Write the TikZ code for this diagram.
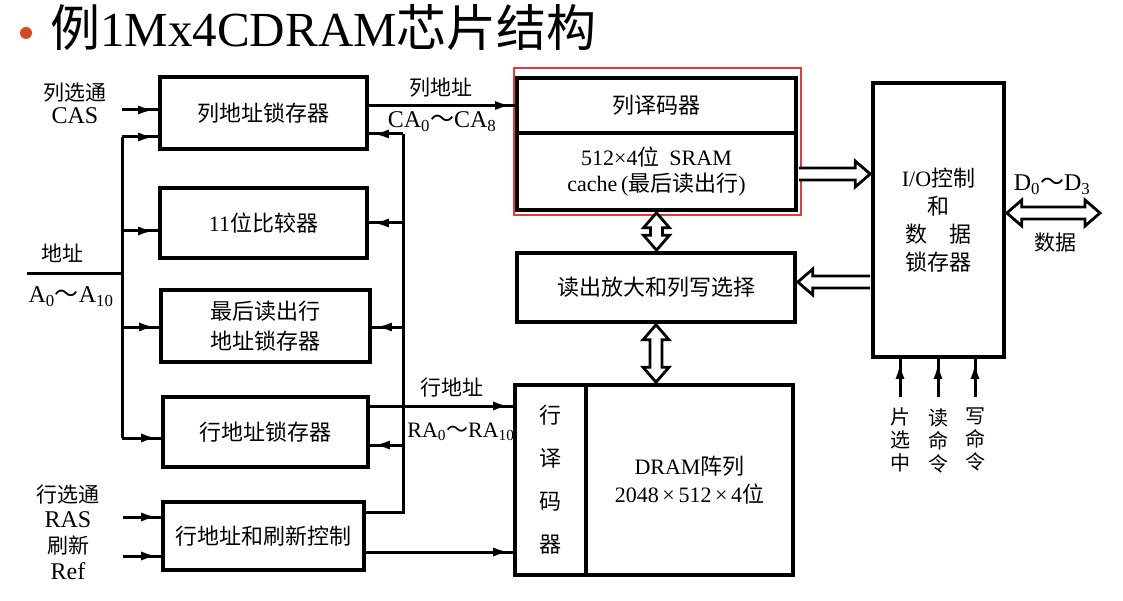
\documentclass[tikz,border=0pt]{standalone}
\usepackage{fontspec}
\setmainfont{Liberation Serif}
\newfontfamily\cjk{Noto Sans CJK SC}
\usetikzlibrary{arrows.meta,decorations.markings,calc}
\definecolor{hl}{RGB}{232,58,58}
\definecolor{bul}{RGB}{212,76,30}
\tikzset{
  blk/.style={draw, line width=3.6pt, inner sep=0pt, align=center,
    font=\cjk\fontsize{22}{30}\selectfont},
  wire/.style={line width=3pt},
  arr/.style={wire, postaction={decorate}, decoration={markings,
    mark=at position -4pt with {\arrow{Latex[length=16pt,width=9pt]}}}},
  lbl/.style={inner sep=0pt, align=center, font=\cjk\fontsize{21}{25}\selectfont},
  lat/.style={inner sep=0pt, font=\fontsize{24}{26}\selectfont},
  hb/.style={line width=2.8pt, line join=miter, fill=white},
  vbus2/.style={hb, to path={let \p1=(\tikztostart), \p2=(\tikztotarget) in
    (\x1,\y1) -- (\x1-13pt,\y1-15pt) -- (\x1-6pt,\y1-15pt) -- (\x1-6pt,\y2+15pt)
    -- (\x1-13pt,\y2+15pt) -- (\x1,\y2) -- (\x1+13pt,\y2+15pt) -- (\x1+6pt,\y2+15pt)
    -- (\x1+6pt,\y1-15pt) -- (\x1+13pt,\y1-15pt) -- cycle}},
  hbus2/.style={hb, to path={let \p1=(\tikztostart), \p2=(\tikztotarget) in
    (\x1,\y1) -- (\x1+15pt,\y1+13pt) -- (\x1+15pt,\y1+6pt) -- (\x2-15pt,\y1+6pt)
    -- (\x2-15pt,\y1+13pt) -- (\x2,\y1) -- (\x2-15pt,\y1-13pt) -- (\x2-15pt,\y1-6pt)
    -- (\x1+15pt,\y1-6pt) -- (\x1+15pt,\y1-13pt) -- cycle}},
  hbusR/.style={hb, to path={let \p1=(\tikztostart), \p2=(\tikztotarget) in
    (\x1,\y1+6pt) -- (\x2-15pt,\y1+6pt) -- (\x2-15pt,\y1+13pt) -- (\x2,\y1)
    -- (\x2-15pt,\y1-13pt) -- (\x2-15pt,\y1-6pt) -- (\x1,\y1-6pt)}},
  hbusL/.style={hb, to path={let \p1=(\tikztostart), \p2=(\tikztotarget) in
    (\x1,\y1+6pt) -- (\x2+15pt,\y1+6pt) -- (\x2+15pt,\y1+13pt) -- (\x2,\y1)
    -- (\x2+15pt,\y1-13pt) -- (\x2+15pt,\y1-6pt) -- (\x1,\y1-6pt)}},
}
\newcommand\tl{{\cjk ～}}
\begin{document}
\begin{tikzpicture}[x=1pt,y=-1pt]
\useasboundingbox (0,0) rectangle (1123,601);
% title
\fill[bul] (26,33) circle (6pt);
\node[anchor=base west, inner sep=0pt] (title) at (50,47)
  {\cjk\fontsize{50}{52}\selectfont 例{\rmfamily\fontsize{49}{52}\selectfont 1Mx4CDRAM}芯片结构};
% left boxes
\node[blk, minimum width=207pt, minimum height=72pt] (cal) at (263.5,113) {列地址锁存器};
\node[blk, minimum width=207pt, minimum height=70pt] (cmp) at (263.5,223) {{\rmfamily 11}位比较器};
\node[blk, minimum width=209pt, minimum height=72pt] (lrl) at (265.5,326) {最后读出行\\地址锁存器};
\node[blk, minimum width=205pt, minimum height=70pt] (ral) at (265.5,432) {行地址锁存器};
\node[blk, minimum width=201pt, minimum height=68pt] (rfc) at (263.5,536) {行地址和刷新控制};
% middle boxes
\node[blk, minimum width=279pt, minimum height=55pt] (cdec) at (656.5,105.5) {列译码器};
\node[blk, minimum width=279pt, minimum height=77pt] (sram) at (656.5,171.5)
  {{\rmfamily 512×4}位\ \ {\rmfamily SRAM}\\[-4pt]{\rmfamily cache\,(}最后读出行{\rmfamily )}};
\node[blk, minimum width=278pt, minimum height=69pt] (amp) at (656,287.5) {读出放大和列写选择};
\node[blk, minimum width=71pt, minimum height=190pt, font=\cjk\fontsize{22}{43}\selectfont] (rdec) at (550.5,480) {行\\译\\码\\器};
\node[blk, minimum width=207pt, minimum height=190pt] (arr) at (689.5,480)
  {{\rmfamily DRAM}阵列\\[-2pt]{\rmfamily 2048\,×\,512\,×\,4}位};
\node[blk, minimum width=131pt, minimum height=274pt, font=\cjk\fontsize{22}{28}\selectfont] (io) at (938.5,220)
  {{\rmfamily I/O}控制\\和\\数\quad 据\\锁存器};
% highlight
\draw[hl, line width=2pt] (514,68) rectangle (801,215);
% left bus
\coordinate (lt) at (122,137);
\coordinate (l2) at (122,231);
\coordinate (l3) at (122,327);
\coordinate (lb) at (122,438);
\coordinate (ain) at (27,274);
\coordinate (cas) at (122,110);
\coordinate (ras) at (123,517);
\coordinate (ref) at (123,556);
\draw[wire] (lt) -- (lb);
\draw[wire] (ain) -- (ain -| lt);
\draw[arr] (lt) -- (lt -| cal.west);
\draw[arr] (l2) -- (l2 -| cmp.west);
\draw[arr] (l3) -- (l3 -| lrl.west);
\draw[arr] (lb) -- (lb -| ral.west);
\draw[arr] (cas) -- (cas -| cal.west);
\draw[arr] (ras) -- (ras -| rfc.west);
\draw[arr] (ref) -- (ref -| rfc.west);
% right bus
\coordinate (rt) at (403,134);
\coordinate (r2) at (403,223);
\coordinate (r3) at (403,327);
\coordinate (r4) at (403,445);
\coordinate (rb) at (403,512);
\draw[wire] (rb -| rfc.east) -- (rb) -- (rt);
\draw[arr] (rt) -- (rt -| cal.east);
\draw[arr] (r2) -- (r2 -| cmp.east);
\draw[arr] (r3) -- (r3 -| lrl.east);
\draw[arr] (r4) -- (r4 -| ral.east);
% address outputs
\draw[arr] (cdec.west -| cal.east) -- (cdec.west);
\draw[arr] (ral.east |- 0,406) -- (rdec.west |- 0,406);
\draw[arr] (rfc.east |- 0,552) -- (rdec.west |- 0,552);
% data paths
\draw[vbus2] ($(sram.south)+(0,1)$) to ($(amp.north)+(0,-1)$);
\draw[vbus2] ($(amp.south)+(0,1)$) to ($(amp.south |- arr.north)+(0,-1)$);
\draw[hbusR] ($(sram.east |- 0,174)+(1,0)$) to ($(io.west |- 0,174)+(-1,0)$);
\draw[hbusL] ($(io.west |- 0,282)+(-1,0)$) to ($(amp.east |- 0,282)+(1,0)$);
\coordinate (dend) at (1100,213);
\draw[hbus2] ($(io.east |- dend)+(1,0)$) to (dend);
% io control inputs
\coordinate (s1) at (900,397);
\coordinate (s2) at (938,397);
\coordinate (s3) at (975,397);
\draw[arr] (s1) -- (s1 |- io.south);
\draw[arr] (s2) -- (s2 |- io.south);
\draw[arr] (s3) -- (s3 |- io.south);
% labels
\node[lbl, font=\cjk\fontsize{20}{23}\selectfont, anchor=north] (t1) at (900,408) {片\\选\\中};
\node[lbl, font=\cjk\fontsize{20}{23}\selectfont, anchor=north] (t2) at (938,408) {读\\命\\令};
\node[lbl, font=\cjk\fontsize{20}{23}\selectfont, anchor=north] (t3) at (975,408) {写\\命\\令};
\node[lbl] (lcas1) at (75,93) {列选通};
\node[lat] (lcas2) at (75,116) {CAS};
\node[lbl] (ladr) at (62,253) {地址};
\node[lat] (la) at (71,297) {A\textsubscript{0}\tl A\textsubscript{10}};
\node[lbl] (lca1) at (441,88) {列地址};
\node[lat] (lca2) at (442,122) {CA\textsubscript{0}\tl CA\textsubscript{8}};
\node[lbl] (lra1) at (452,388) {行地址};
\node[lat, font=\fontsize{22}{26}\selectfont] (lra2) at (461,432) {RA\textsubscript{0}\tl RA\textsubscript{10}};
\node[lbl] (lras1) at (68,495) {行选通};
\node[lat] (lras2) at (68,520) {RAS};
\node[lbl] (lref1) at (68,545) {刷新};
\node[lat] (lref2) at (68,571) {Ref};
\node[lat] (ld) at (1052,185) {D\textsubscript{0}\tl D\textsubscript{3}};
\node[lbl] (ldata) at (1055,243) {数据};
\end{tikzpicture}
\end{document}
